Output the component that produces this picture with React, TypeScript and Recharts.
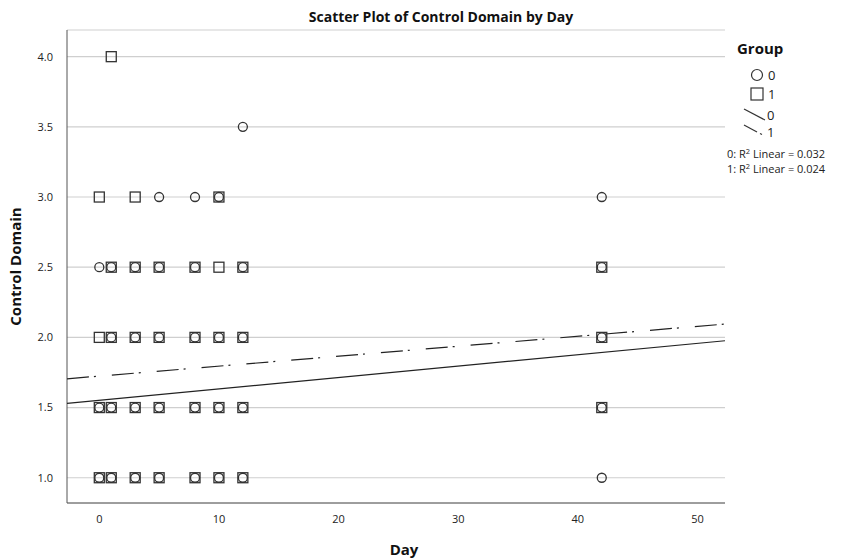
import { ScatterChart, Scatter, XAxis, YAxis, CartesianGrid, Label } from "recharts";

// group 0 (circles) and group 1 (squares)
const days0 = [0, 1, 3, 5, 8, 12, 1, 3, 5, 8, 10, 12, 0, 1, 3, 5, 8, 10, 12, 0, 1, 3, 5, 8, 10, 12, 5, 8, 10, 12, 42, 42, 42, 42, 42];
const vals0 = [2.5, 2.5, 2.5, 2.5, 2.5, 2.5, 2, 2, 2, 2, 2, 2, 1.5, 1.5, 1.5, 1.5, 1.5, 1.5, 1.5, 1, 1, 1, 1, 1, 1, 1, 3, 3, 3, 3.5, 3, 2.5, 2, 1.5, 1];
const days1 = [1, 3, 5, 8, 10, 12, 0, 1, 3, 5, 8, 10, 12, 0, 1, 3, 5, 8, 10, 12, 0, 1, 3, 5, 8, 10, 12, 0, 3, 10, 1, 42, 42, 42];
const vals1 = [2.5, 2.5, 2.5, 2.5, 2.5, 2.5, 2, 2, 2, 2, 2, 2, 2, 1.5, 1.5, 1.5, 1.5, 1.5, 1.5, 1.5, 1, 1, 1, 1, 1, 1, 1, 3, 3, 3, 4, 2.5, 2, 1.5];

// fit lines, endpoints at the axis edges
const fitDays = [-2.7, 52.3];
const fit0 = [1.53, 1.976];
const fit1 = [1.705, 2.095];

const xTicks = [0, 10, 20, 30, 40, 50];
const yTicks = [1, 1.5, 2, 2.5, 3, 3.5, 4];

const pts0 = days0.map((d, i) => ({ day: d, v: vals0[i] }));
const pts1 = days1.map((d, i) => ({ day: d, v: vals1[i] }));
const line0 = fitDays.map((d, i) => ({ day: d, v: fit0[i] }));
const line1 = fitDays.map((d, i) => ({ day: d, v: fit1[i] }));

const FONT = "'Open Sans', 'DejaVu Sans', sans-serif";
const INK = "#333";

const CircleDot = (p: any) => (
  <circle cx={p.cx} cy={p.cy} r={4.5} fill="none" stroke={INK} strokeWidth={1.3} />
);
const SquareDot = (p: any) => (
  <rect x={p.cx - 5} y={p.cy - 5} width={10} height={10} fill="none" stroke={INK} strokeWidth={1.3} />
);
const NoDot = () => null;

function GroupLegend() {
  return (
    <svg width={852} height={559} style={{ position: "absolute", left: 0, top: 0, fontFamily: FONT, pointerEvents: "none" }}>
      <text x={737} y={54} fontSize={15} fontWeight={700} fill="#111">Group</text>
      <circle cx={757} cy={75} r={5.5} fill="none" stroke={INK} strokeWidth={1.2} />
      <text x={768} y={80} fontSize={13} fill="#222">0</text>
      <rect x={751} y={88} width={12} height={12} fill="none" stroke={INK} strokeWidth={1.2} />
      <text x={768} y={99} fontSize={13} fill="#222">1</text>
      <line x1={744} y1={109} x2={765} y2={120} stroke={INK} strokeWidth={1.2} />
      <text x={767} y={120} fontSize={13} fill="#222">0</text>
      <line x1={744} y1={125} x2={757} y2={132} stroke={INK} strokeWidth={1.2} />
      <line x1={760} y1={133.5} x2={762} y2={134.5} stroke={INK} strokeWidth={1.2} />
      <text x={767} y={137} fontSize={13} fill="#222">1</text>
      <text x={727} y={158} fontSize={11} fill="#222">0: R<tspan dy={-4} fontSize={7.5}>2</tspan><tspan dy={4}> Linear = 0.032</tspan></text>
      <text x={727} y={173} fontSize={11} fill="#222">1: R<tspan dy={-4} fontSize={7.5}>2</tspan><tspan dy={4}> Linear = 0.024</tspan></text>
    </svg>
  );
}

export default function App() {
  return (
    <div style={{ position: "absolute", left: 0, top: 0, width: 852, height: 559, background: "#fff" }}>
      <ScatterChart width={852} height={559} margin={{ top: 30, right: 127, bottom: 0, left: 0 }}>
        <text x={441} y={22} textAnchor="middle" fontFamily={FONT} fontSize={14} fontWeight={700} fill="#111">
          Scatter Plot of Control Domain by Day
        </text>
        <CartesianGrid vertical={false} horizontal stroke="#cfcfcf" strokeWidth={1.2} />
        <XAxis
          type="number"
          dataKey="day"
          domain={[-2.7, 52.3]}
          ticks={xTicks}
          allowDataOverflow
          height={56}
          tickLine={false}
          axisLine={{ stroke: "#555" }}
          tick={{ fontSize: 11, fill: "#222", fontFamily: FONT }}
          tickMargin={6}
        >
          <Label value="Day" position="insideBottom" offset={4} dx={8} style={{ fontSize: 15, fontWeight: 700, fill: "#111", fontFamily: FONT }} />
        </XAxis>
        <YAxis
          type="number"
          dataKey="v"
          domain={[0.82, 4.19]}
          ticks={yTicks}
          allowDataOverflow
          width={67}
          tickLine={false}
          axisLine={{ stroke: "#555" }}
          tick={{ fontSize: 11, fill: "#222", fontFamily: FONT }}
          tickMargin={8}
          tickFormatter={(v: number) => v.toFixed(1)}
        >
          <Label value="Control Domain" angle={-90} position="insideLeft" offset={16} style={{ textAnchor: "middle", fontSize: 15, fontWeight: 700, fill: "#111", fontFamily: FONT }} />
        </YAxis>
        <Scatter data={line0} line={{ stroke: "#222", strokeWidth: 1.2 }} shape={NoDot} isAnimationActive={false} legendType="none" />
        <Scatter data={line1} line={{ stroke: "#222", strokeWidth: 1.2, strokeDasharray: "22 5 2 16" }} shape={NoDot} isAnimationActive={false} legendType="none" />
        <Scatter data={pts0} shape={CircleDot} isAnimationActive={false} />
        <Scatter data={pts1} shape={SquareDot} isAnimationActive={false} />
      </ScatterChart>
      <GroupLegend />
    </div>
  );
}
